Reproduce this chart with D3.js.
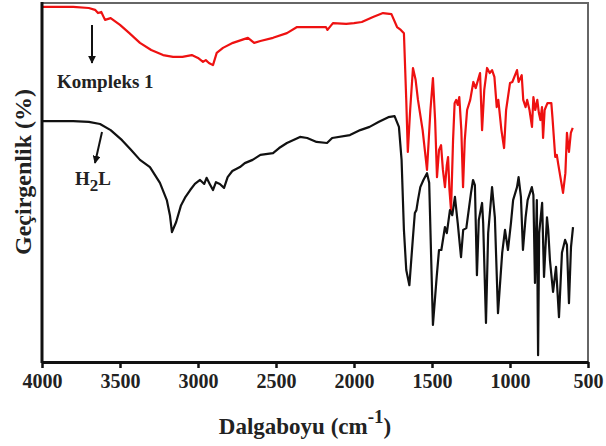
<!DOCTYPE html>
<html lang="en">
<head>
  <meta charset="utf-8">
  <title>FT-IR Spektrumu</title>
  <style>
    body { margin: 0; background: #fff; }
    text { font-family: "Liberation Serif", "DejaVu Serif", serif; font-weight: bold; fill: #222; }
    .line { fill: none; stroke-width: 2.2; stroke-linejoin: round; }
  </style>
</head>
<body>
  <svg id="chart"></svg>

  <script src="https://cdn.jsdelivr.net/npm/d3@7/dist/d3.min.js"></script>
  <script>
    // wavenumber (cm-1) and transmittance (%)
    const kompleksWave = [4000, 3900, 3800, 3700, 3660, 3641, 3620, 3596, 3560, 3500, 3440, 3372, 3300, 3224, 3160, 3100, 3040, 3000, 2968, 2950, 2930, 2904, 2880, 2840, 2776, 2700, 2680, 2640, 2600, 2519, 2430, 2365, 2300, 2180, 2170, 2135, 2050, 2000, 1950, 1878, 1814, 1760, 1724, 1700, 1680, 1665, 1655, 1640, 1622, 1605, 1590, 1560, 1532, 1510, 1494, 1480, 1468, 1455, 1442, 1430, 1417, 1405, 1397, 1388, 1378, 1365, 1355, 1345, 1335, 1325, 1312, 1301, 1290, 1275, 1255, 1235, 1220, 1192, 1179, 1165, 1147, 1130, 1115, 1100, 1085, 1075, 1055, 1038, 1025, 1000, 985, 955, 945, 925, 915, 900, 890, 875, 859, 850, 838, 825, 815, 805, 795, 788, 778, 760, 735, 728, 710, 700, 690, 660, 645, 635, 622, 610, 598];
    const kompleksT = [98.9, 98.9, 98.9, 98.6, 98.1, 97.2, 97.5, 95.3, 95.8, 93.9, 91.6, 88.9, 86.9, 85.5, 85.0, 85.0, 85.5, 84.7, 83.6, 84.1, 83.3, 82.7, 86.1, 87.5, 88.9, 90.0, 90.3, 88.9, 89.4, 90.3, 91.6, 93.3, 93.3, 93.3, 92.5, 94.4, 94.2, 94.4, 94.7, 96.1, 97.2, 96.9, 93.3, 92.5, 91.6, 73.0, 58.5, 70.2, 81.9, 78.6, 73.0, 64.6, 53.5, 70.2, 79.1, 67.4, 51.5, 59.1, 60.4, 53.5, 48.7, 54.9, 57.1, 47.9, 42.3, 61.8, 72.1, 73.0, 71.6, 73.8, 64.6, 48.7, 61.8, 70.2, 73.0, 78.0, 76.3, 80.5, 64.6, 75.8, 81.9, 80.5, 81.3, 79.4, 71.0, 73.0, 64.6, 59.6, 70.2, 77.7, 78.0, 81.3, 78.0, 79.9, 73.0, 71.0, 73.0, 70.2, 65.5, 73.8, 70.2, 73.0, 69.4, 67.4, 71.0, 62.4, 70.2, 72.1, 72.1, 68.2, 57.1, 57.7, 54.9, 47.1, 52.6, 63.8, 58.5, 63.8, 65.2];

    const h2lWave = [4000, 3900, 3800, 3700, 3628, 3560, 3487, 3430, 3372, 3308, 3244, 3200, 3180, 3167, 3140, 3110, 3080, 3050, 3020, 2987, 2960, 2945, 2925, 2904, 2885, 2860, 2833, 2810, 2780, 2731, 2700, 2650, 2600, 2519, 2480, 2430, 2346, 2300, 2240, 2173, 2140, 2026, 1960, 1900, 1840, 1780, 1740, 1712, 1695, 1680, 1665, 1645, 1622, 1610, 1600, 1590, 1575, 1555, 1532, 1518, 1494, 1470, 1455, 1440, 1417, 1405, 1385, 1370, 1353, 1335, 1314, 1300, 1280, 1250, 1237, 1225, 1212, 1200, 1179, 1172, 1154, 1140, 1115, 1097, 1077, 1050, 1032, 1013, 994, 980, 955, 945, 930, 917, 900, 887, 860, 850, 840, 828, 820, 813, 794, 782, 763, 755, 744, 724, 705, 686, 667, 647, 635, 622, 609, 596];
    const h2lT = [67.1, 67.1, 67.1, 66.9, 66.3, 64.6, 61.8, 59.1, 56.3, 54.3, 49.9, 45.1, 40.9, 36.2, 39.0, 43.5, 46.0, 47.9, 49.6, 50.7, 49.6, 51.3, 49.6, 47.9, 50.1, 49.6, 48.5, 51.5, 53.2, 54.3, 55.4, 56.3, 57.7, 58.2, 59.6, 61.0, 62.7, 62.4, 61.3, 61.0, 62.4, 63.2, 64.6, 65.5, 66.9, 68.2, 68.5, 65.5, 56.3, 36.8, 25.6, 21.4, 34.8, 41.5, 42.3, 45.1, 48.7, 50.7, 52.6, 49.9, 10.3, 23.7, 31.2, 31.2, 37.6, 35.9, 42.3, 40.9, 46.0, 38.7, 29.2, 36.8, 37.3, 47.1, 50.7, 49.3, 24.2, 39.6, 44.3, 38.7, 10.9, 35.9, 48.7, 40.3, 13.6, 30.4, 36.8, 31.2, 38.7, 45.1, 48.7, 51.5, 46.0, 31.2, 40.3, 45.1, 48.7, 46.5, 22.0, 45.1, 1.9, 35.9, 44.3, 23.7, 40.3, 36.8, 28.4, 19.5, 26.5, 12.5, 30.4, 34.0, 32.6, 16.4, 32.0, 37.6];

    const xTicks = [4000, 3500, 3000, 2500, 2000, 1500, 1000, 500];

    const width = 606;
    const height = 446;
    const margin = { top: 3, right: 18, bottom: 84, left: 42 };

    const svg = d3.select("#chart")
      .attr("width", width)
      .attr("height", height);

    const x = d3.scaleLinear()
      .domain([4000, 500])
      .range([margin.left, width - margin.right]);

    const y = d3.scaleLinear()
      .domain([0, 100])
      .range([height - margin.bottom, margin.top]);

    const line = d3.line()
      .x(d => x(d[0]))
      .y(d => y(d[1]));

    const series = [
      { wave: kompleksWave, t: kompleksT, color: "#ee1111" },
      { wave: h2lWave, t: h2lT, color: "#111" }
    ];

    // top and right frame, thin grey
    svg.append("path")
      .attr("d", `M${x(4000)},${y(100)}H${x(500)}V${y(0)}`)
      .attr("fill", "none")
      .attr("stroke", "#666")
      .attr("stroke-width", 2);

    svg.selectAll(".line")
      .data(series)
      .join("path")
      .attr("class", "line")
      .attr("stroke", d => d.color)
      .attr("d", d => line(d.wave.map((w, i) => [w, d.t[i]])));

    // x axis
    const xAxis = svg.append("g")
      .attr("transform", `translate(0,${y(0)})`)
      .call(d3.axisBottom(x).tickValues(xTicks).tickFormat(d3.format("d")).tickSize(6).tickSizeOuter(0).tickPadding(6));

    xAxis.select(".domain").attr("stroke", "#111").attr("stroke-width", 3);
    xAxis.selectAll(".tick line").attr("stroke", "#111").attr("stroke-width", 2.5);
    xAxis.selectAll(".tick text")
      .attr("fill", "#222")
      .style("font-size", "20px")
      .style("font-family", "'Liberation Serif', serif")
      .style("font-weight", "bold");

    // left axis, no ticks
    svg.append("line")
      .attr("x1", x(4000)).attr("x2", x(4000))
      .attr("y1", y(100) - 1).attr("y2", y(0) + 1)
      .attr("stroke", "#111")
      .attr("stroke-width", 3);

    // axis titles
    const xTitle = svg.append("text")
      .attr("x", 305)
      .attr("y", 434)
      .attr("text-anchor", "middle")
      .style("font-size", "23px");
    xTitle.append("tspan").text("Dalgaboyu (cm");
    xTitle.append("tspan").attr("dy", -11).style("font-size", "19px").text("-1");
    xTitle.append("tspan").attr("dy", 11).text(")");

    svg.append("text")
      .attr("transform", "translate(31,172) rotate(-90)")
      .attr("text-anchor", "middle")
      .style("font-size", "24px")
      .text("Geçirgenlik (%)");

    // labels with arrows
    svg.append("defs").append("marker")
      .attr("id", "head")
      .attr("viewBox", "0 0 10 10")
      .attr("refX", 9).attr("refY", 5)
      .attr("markerWidth", 4).attr("markerHeight", 4)
      .attr("orient", "auto")
      .append("path")
      .attr("d", "M0,0L10,5L0,10z")
      .attr("fill", "#111");

    svg.append("line")
      .attr("x1", 92).attr("y1", 25).attr("x2", 92).attr("y2", 63)
      .attr("stroke", "#111").attr("stroke-width", 2)
      .attr("marker-end", "url(#head)");

    svg.append("line")
      .attr("x1", 102).attr("y1", 132).attr("x2", 95).attr("y2", 163)
      .attr("stroke", "#111").attr("stroke-width", 2)
      .attr("marker-end", "url(#head)");

    svg.append("text")
      .attr("x", 57).attr("y", 88)
      .style("font-size", "19px")
      .text("Kompleks 1");

    const h2l = svg.append("text")
      .attr("x", 75).attr("y", 185)
      .style("font-size", "19px");
    h2l.append("tspan").text("H");
    h2l.append("tspan").attr("dy", 6).style("font-size", "17px").text("2");
    h2l.append("tspan").attr("dy", -6).text("L");
  </script>
</body>
</html>
